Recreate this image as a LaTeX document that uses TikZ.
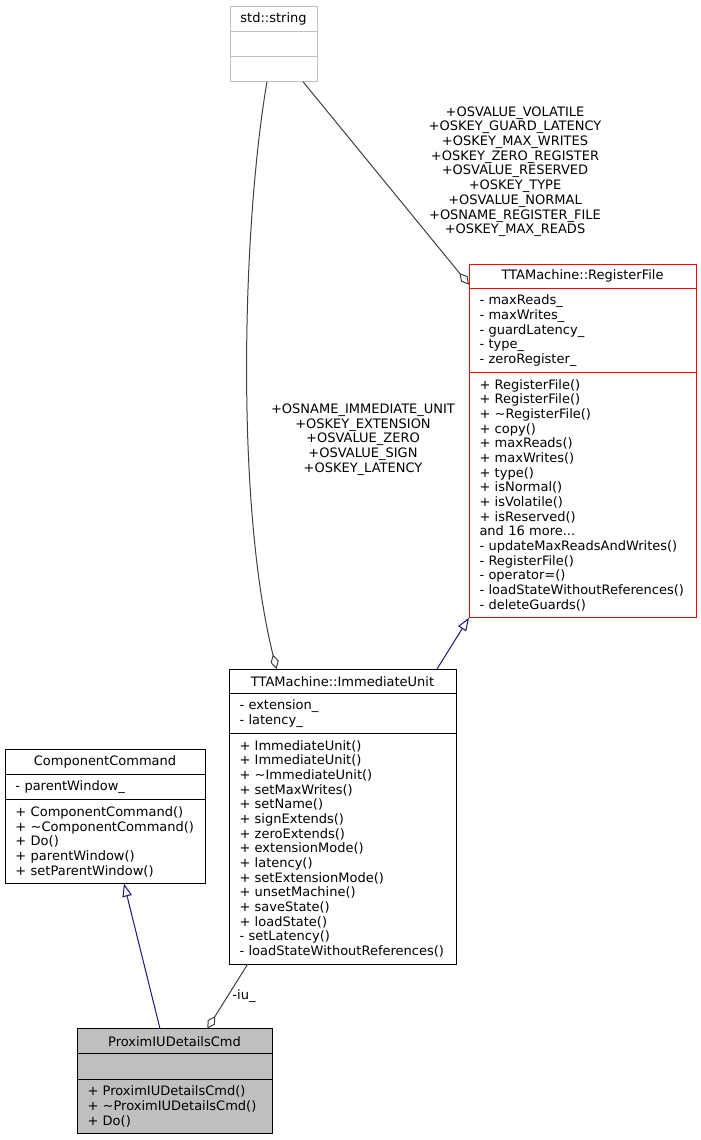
\documentclass[tikz,border=0pt]{standalone}
\usepackage{fontspec}
\setmainfont{DejaVu Sans}
\usepackage{tikz}
\usetikzlibrary{arrows.meta}

\definecolor{edgegrey}{HTML}{404040}
\definecolor{inhblue}{HTML}{191970}
\definecolor{boxgrey}{HTML}{BFBFBF}

\begin{document}
\begin{tikzpicture}[x=1pt, y=-1pt,
    font=\fontsize{13pt}{14.67pt}\selectfont,
    head/.style={draw, line width=1pt, anchor=north west, inner sep=0pt, outer sep=0pt, minimum height=24.7pt},
    part/.style={draw, line width=1pt, anchor=north west, inner xsep=10.5pt, inner ysep=0pt, outer sep=0pt, align=left},
    roles/.style={align=center, inner sep=0pt},
    usage/.style={draw=edgegrey, line width=1pt},
    inherit/.style={draw=inhblue, line width=1pt},
    agg/.style={{Diamond[open, length=15pt, width=8.5pt]}-},
    isa/.style={-{Triangle[open, length=13pt, width=9.5pt]}}]

    \useasboundingbox (0,0) rectangle (701,1140);

    % std::string
    \node[head, draw=boxgrey, minimum width=87pt] (str-title) at (230,7) {std::string};
    \node[part, draw=boxgrey, text width=66pt, minimum height=25pt] (str-attr) at (str-title.south west) {};
    \node[part, draw=boxgrey, text width=66pt, minimum height=25pt] (str-ops) at (str-attr.south west) {};

    % TTAMachine::RegisterFile
    \node[head, draw=red, minimum width=227pt] (rf-title) at (469,264) {TTAMachine::RegisterFile};
    \node[part, draw=red, text width=206pt, minimum height=83.85pt] (rf-attr) at (rf-title.south west)
        {-~maxReads\_\\-~maxWrites\_\\-~guardLatency\_\\-~type\_\\-~zeroRegister\_};
    \node[part, draw=red, text width=206pt, minimum height=245.2pt] (rf-ops) at (rf-attr.south west)
        {+~RegisterFile()\\+~RegisterFile()\\+~\textasciitilde RegisterFile()\\+~copy()\\+~maxReads()\\
         +~maxWrites()\\+~type()\\+~isNormal()\\+~isVolatile()\\+~isReserved()\\and 16 more...\\
         -~updateMaxReadsAndWrites()\\-~RegisterFile()\\-~operator=()\\-~loadStateWithoutReferences()\\
         -~deleteGuards()};

    % TTAMachine::ImmediateUnit
    \node[head, minimum width=227pt] (iu-title) at (229,669) {TTAMachine::ImmediateUnit};
    \node[part, text width=206pt, minimum height=39.84pt] (iu-attr) at (iu-title.south west)
        {-~extension\_\\-~latency\_};
    \node[part, text width=206pt, minimum height=230.55pt] (iu-ops) at (iu-attr.south west)
        {+~ImmediateUnit()\\+~ImmediateUnit()\\+~\textasciitilde ImmediateUnit()\\+~setMaxWrites()\\
         +~setName()\\+~signExtends()\\+~zeroExtends()\\+~extensionMode()\\+~latency()\\
         +~setExtensionMode()\\+~unsetMachine()\\+~saveState()\\+~loadState()\\-~setLatency()\\
         -~loadStateWithoutReferences()};

    % ComponentCommand
    \node[head, minimum width=200pt, minimum height=25pt] (cc-title) at (5,749.5) {ComponentCommand};
    \node[part, text width=179pt, minimum height=25.2pt] (cc-attr) at (cc-title.south west)
        {-~parentWindow\_};
    \node[part, text width=179pt, minimum height=83.85pt] (cc-ops) at (cc-attr.south west)
        {+~ComponentCommand()\\+~\textasciitilde ComponentCommand()\\+~Do()\\+~parentWindow()\\
         +~setParentWindow()};

    % ProximIUDetailsCmd
    \node[head, fill=boxgrey, minimum width=195pt, minimum height=25pt] (px-title) at (77,1028.7) {ProximIUDetailsCmd};
    \node[part, fill=boxgrey, text width=174pt, minimum height=25.3pt] (px-attr) at (px-title.south west) {};
    \node[part, fill=boxgrey, text width=174pt, minimum height=54.5pt] (px-ops) at (px-attr.south west)
        {+~ProximIUDetailsCmd()\\+~\textasciitilde ProximIUDetailsCmd()\\+~Do()};

    % member names on the edges
    \node[roles] (rf-roles) at (515,171.7)
        {+OSVALUE\_VOLATILE\\+OSKEY\_GUARD\_LATENCY\\+OSKEY\_MAX\_WRITES\\+OSKEY\_ZERO\_REGISTER\\
         +OSVALUE\_RESERVED\\+OSKEY\_TYPE\\+OSVALUE\_NORMAL\\+OSNAME\_REGISTER\_FILE\\+OSKEY\_MAX\_READS};
    \node[roles] (iu-roles) at (363,439.5)
        {+OSNAME\_IMMEDIATE\_UNIT\\+OSKEY\_EXTENSION\\+OSVALUE\_ZERO\\+OSVALUE\_SIGN\\+OSKEY\_LATENCY};
    \node[roles] (px-roles) at (244,996) {-iu\_};

    \draw[usage, agg] ([yshift=4pt]rf-title.south west) -- ([xshift=-14pt]str-ops.south east);
    \draw[usage, agg] ([xshift=47.5pt]iu-title.north west) .. controls +(-42,-169) and +(-24,139) .. ([xshift=-50pt]str-ops.south east);
    \draw[inherit, isa] ([xshift=-19pt]iu-title.north east) -- (rf-ops.south west);
    \draw[inherit, isa] ([xshift=83pt]px-title.north west) -- ([xshift=119pt]cc-ops.south west);
    \draw[usage, agg] ([xshift=130.3pt]px-title.north west) -- ([xshift=18.7pt]iu-ops.south west);
\end{tikzpicture}
\end{document}
